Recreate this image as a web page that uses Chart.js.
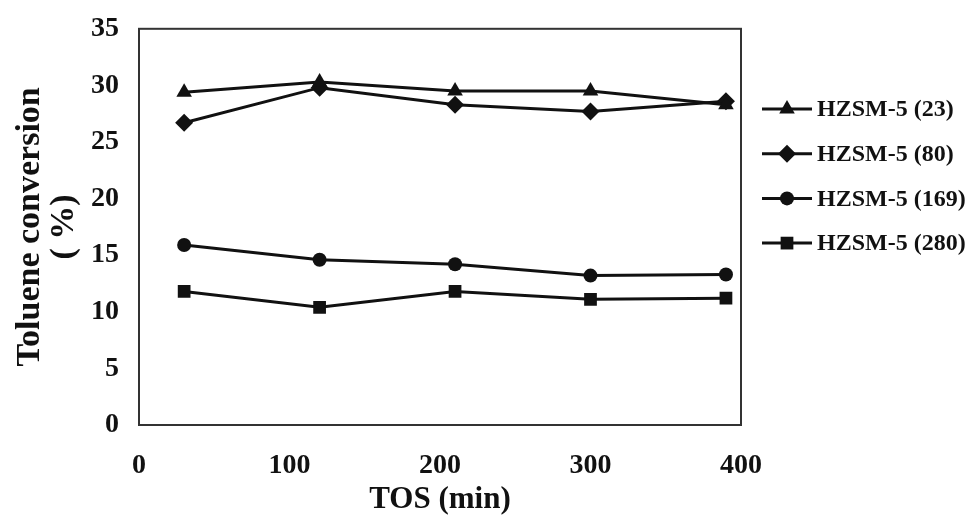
<!DOCTYPE html>
<html>
<head>
<meta charset="utf-8">
<script src="https://cdn.jsdelivr.net/npm/chart.js@4.4.1/dist/chart.umd.min.js"></script>
<style>
  html, body { margin: 0; padding: 0; background: #fff; }
  #wrap { width: 978px; height: 522px; }
</style>
</head>
<body>
<div id="wrap"><canvas id="conversionChart" width="978" height="522"></canvas></div>
<script>
// TOS (min) at which conversion was measured
const tosMinutes = [30, 120, 210, 300, 390];

// Toluene conversion (%) per catalyst
const hzsm23 = [29.4, 30.3, 29.5, 29.5, 28.3];
const hzsm80 = [26.7, 29.8, 28.3, 27.7, 28.6];
const hzsm169 = [15.9, 14.6, 14.2, 13.2, 13.3];
const hzsm280 = [11.8, 10.4, 11.8, 11.1, 11.2];

const seriesLabels = ["HZSM-5 (23)", "HZSM-5 (80)", "HZSM-5 (169)", "HZSM-5 (280)"];
const seriesValues = [hzsm23, hzsm80, hzsm169, hzsm280];
const seriesMarkers = ["triangle", "rectRot", "circle", "rect"];
const markerRadius = [9, 9, 7, 9];

const xTicks = [0, 100, 200, 300, 400];
const yTicks = [0, 5, 10, 15, 20, 25, 30, 35];

const ink = "#111";
const serif = "'Liberation Serif', 'Times New Roman', serif";

const datasets = seriesLabels.map((label, i) => ({
  label: label,
  data: tosMinutes.map((t, j) => ({ x: t, y: seriesValues[i][j] })),
  borderColor: ink,
  backgroundColor: ink,
  borderWidth: 3,
  pointStyle: seriesMarkers[i],
  pointRadius: markerRadius[i],
  pointBorderWidth: 0,
  pointBackgroundColor: ink,
  tension: 0,
}));

// box around the plot area
const frame = {
  id: "frame",
  beforeDatasetsDraw(chart) {
    const { ctx, chartArea: a } = chart;
    ctx.save();
    ctx.strokeStyle = "#333";
    ctx.lineWidth = 2;
    ctx.strokeRect(a.left, a.top, a.right - a.left, a.bottom - a.top);
    ctx.restore();
  },
};

// legend on the right: line with marker, then label
const sideLegend = {
  id: "sideLegend",
  afterDraw(chart) {
    const { ctx } = chart;
    const x0 = 762, x1 = 812, top = 109, step = 44.7;
    ctx.save();
    chart.data.datasets.forEach((ds, i) => {
      const y = top + i * step;
      ctx.strokeStyle = ink;
      ctx.fillStyle = ink;
      ctx.lineWidth = 3;
      ctx.beginPath();
      ctx.moveTo(x0, y);
      ctx.lineTo(x1, y);
      ctx.stroke();
      Chart.helpers.drawPoint(ctx, { pointStyle: ds.pointStyle, radius: ds.pointRadius, rotation: 0, borderWidth: 0 }, (x0 + x1) / 2, y);
      ctx.font = "bold 24px " + serif;
      ctx.textBaseline = "middle";
      ctx.textAlign = "left";
      ctx.fillText(ds.label, x1 + 5, y + 1);
    });
    ctx.restore();
  },
};

const ctx = document.getElementById("conversionChart").getContext("2d");
new Chart(ctx, {
  type: "line",
  data: { datasets: datasets },
  plugins: [frame, sideLegend],
  options: {
    responsive: false,
    animation: false,
    layout: {
      padding: { top: 27, right: 237, bottom: 0, left: 0 },
    },
    plugins: {
      legend: { display: false },
      tooltip: { enabled: false },
    },
    scales: {
      x: {
        type: "linear",
        min: 0,
        max: 400,
        afterBuildTicks: (scale) => {
          scale.ticks = xTicks.map((v) => ({ value: v }));
        },
        afterFit: (scale) => {
          scale.height = 97;
        },
        grid: { display: false },
        border: { display: false },
        ticks: {
          color: ink,
          padding: 16,
          font: { family: serif, size: 28, weight: "bold" },
        },
        title: {
          display: true,
          text: "TOS (min)",
          color: ink,
          padding: { top: 0, bottom: 3 },
          font: { family: serif, size: 31, weight: "bold" },
        },
      },
      y: {
        min: 0,
        max: 35,
        afterBuildTicks: (scale) => {
          scale.ticks = yTicks.map((v) => ({ value: v }));
        },
        afterFit: (scale) => {
          scale.width = 139;
        },
        grid: { display: false },
        border: { display: false },
        ticks: {
          color: ink,
          padding: 12,
          font: { family: serif, size: 28, weight: "bold" },
        },
        title: {
          display: true,
          text: ["Toluene conversion", "( %)"],
          color: ink,
          padding: { top: 13, bottom: 0 },
          font: { family: serif, size: 34, weight: "bold", lineHeight: 1.0 },
        },
      },
    },
  },
});
</script>
</body>
</html>
